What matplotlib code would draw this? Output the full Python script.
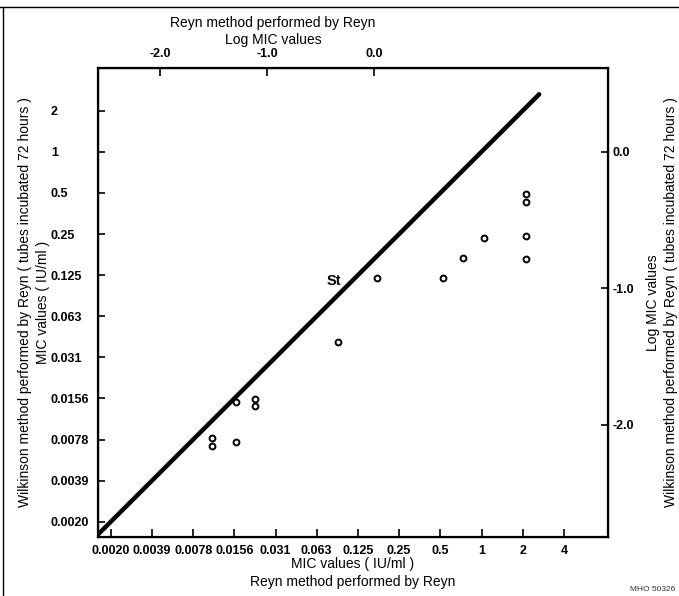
import numpy as np
import matplotlib
matplotlib.use("Agg")
import matplotlib.pyplot as plt
from matplotlib.lines import Line2D

plt.rcParams['font.family'] = ['Liberation Sans', 'DejaVu Sans']

# MIC scale (IU/ml), doubling dilutions
x_ticks = [2.0**k for k in range(-9, 3)]
x_labels = ['0.0020', '0.0039', '0.0078', '0.0156', '0.031', '0.063',
            '0.125', '0.25', '0.5', '1', '2', '4']
y_ticks = [2.0**k for k in range(-9, 2)]
y_labels = ['0.0020', '0.0039', '0.0078', '0.0156', '0.031', '0.063',
            '0.125', '0.25', '0.5', '1', '2']
log_ticks = [-2.0, -1.0, 0.0]
log_labels = ['-2.0', '-1.0', '0.0']

# Reyn (x) vs Wilkinson (y) MIC values
reyn_mic = [0.0107, 0.0107, 0.0161, 0.0161, 0.0220, 0.0220, 0.0897, 0.172,
            0.522, 0.727, 1.05, 2.10, 2.10, 2.10, 2.10]
wilk_mic = [0.0080, 0.0070, 0.0075, 0.0148, 0.0156, 0.0137, 0.0405, 0.119,
            0.120, 0.167, 0.235, 0.243, 0.164, 0.490, 0.430]

# line of equality
eq_line = [0.00158, 2.64]

fig = plt.figure(figsize=(6.79, 5.96), dpi=100)
ax = fig.add_axes([0.1443, 0.099, 0.7511, 0.787])
ax.set_xscale('log', base=2)
ax.set_yscale('log', base=2)
xmin, xmax = 2**-9.31, 2**3.07
ymin, ymax = 2**-9.37, 2**2.04
ax.set_xlim(xmin, xmax)
ax.set_ylim(ymin, ymax)

ax.plot(eq_line, eq_line, color='black', lw=3.2, solid_capstyle='round')
ax.plot(reyn_mic, wilk_mic, 'o', ms=4.2, mfc='white', mec='black', mew=1.4)
ax.text(0.084, 0.113, 'St', fontsize=10.5, fontweight='bold', ha='center', va='center')

ax.set_xticks(x_ticks)
ax.set_xticklabels(x_labels, fontweight='bold')
ax.set_yticks(y_ticks)
ax.set_yticklabels(y_labels, ha='left', fontweight='bold')
ax.minorticks_off()
ax.tick_params(axis='x', direction='in', length=6, width=1.2, labelsize=9, pad=6)
ax.tick_params(axis='y', direction='in', length=5, width=1.2, labelsize=9, pad=34)
for s in ax.spines.values():
    s.set_linewidth(1.6)

ax.set_xlabel('MIC values ( IU/ml )\nReyn method performed by Reyn', fontsize=10,
              linespacing=1.35)
ax.xaxis.set_label_coords(0.5, -0.043)
ax.set_ylabel('Wilkinson method performed by Reyn ( tubes incubated 72 hours )\n'
              'MIC values ( IU/ml )', fontsize=10, linespacing=1.35)
ax.yaxis.set_label_coords(-0.094, 0.5)

# log MIC scale on top
top = ax.twiny()
top.set_xlim(-2.58, 2.19)
top.set_xticks(log_ticks)
top.set_xticklabels(log_labels, fontweight='bold')
top.tick_params(axis='x', direction='in', length=6, width=1.2, labelsize=9, pad=6)
top.set_xlabel('Reyn method performed by Reyn\nLog MIC values', fontsize=10,
               linespacing=1.35)
top.xaxis.set_label_coords(0.343, 1.05)

# log MIC scale on the right
right = ax.twinx()
right.set_ylim(np.log10(ymin), np.log10(ymax))
right.set_yticks(log_ticks)
right.set_yticklabels(log_labels, fontweight='bold')
right.tick_params(axis='y', direction='in', length=5, width=1.2, labelsize=9, pad=3)
right.set_ylabel('Log MIC values\nWilkinson method performed by Reyn ( tubes incubated 72 hours )',
                 fontsize=10, rotation=90, linespacing=1.35)
right.yaxis.set_label_coords(1.075, 0.5)

# page border
fig.add_artist(Line2D([3 / 679, 3 / 679], [0, 1 - 8 / 596], color='black', lw=1.0))
fig.add_artist(Line2D([0, 1], [1 - 7 / 596, 1 - 7 / 596], color='black', lw=1.0))
fig.text(0.995, 0.005, 'MHO 50326', fontsize=6, ha='right', va='bottom', color='#333333')

fig.savefig('out.png', dpi=100)
